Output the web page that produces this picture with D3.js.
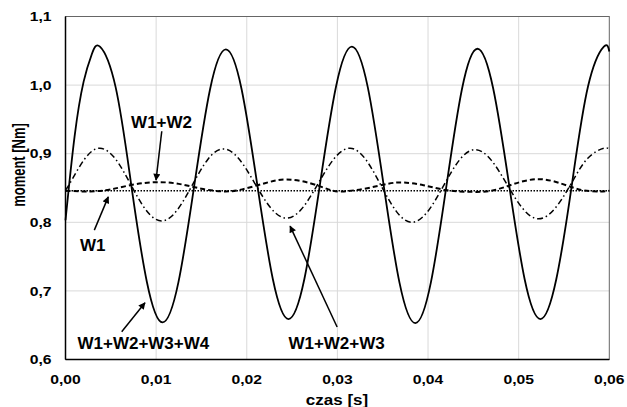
<!DOCTYPE html>
<html>
<head>
<meta charset="utf-8">
<script src="https://cdn.jsdelivr.net/npm/d3@7"></script>
<style>
  body { margin: 0; background: #fff; }
  svg { display: block; font-family: Arial, "Liberation Sans", sans-serif; font-weight: bold; }
</style>
</head>
<body>
<svg id="chart" width="627" height="407"></svg>
<script>
// tick values
const xTicks = [0, 0.01, 0.02, 0.03, 0.04, 0.05, 0.06];
const yTicks = [0.6, 0.7, 0.8, 0.9, 1.0, 1.1];

// W1 (dotted, constant)
const w1 = [[0, 0.846], [0.01, 0.846], [0.02, 0.846], [0.03, 0.846], [0.04, 0.846], [0.05, 0.846], [0.06, 0.846]];

// W1+W2 (dashed)
const w12 = [
  [0, 0.846], [0.0027, 0.845], [0.005, 0.848], [0.0075, 0.855], [0.01, 0.8585], [0.0125, 0.856],
  [0.015, 0.849], [0.0174, 0.845], [0.0195, 0.848], [0.022, 0.857], [0.0244, 0.8624], [0.027, 0.857],
  [0.029, 0.848], [0.0305, 0.845], [0.033, 0.849], [0.0355, 0.856], [0.0373, 0.858], [0.0395, 0.854],
  [0.042, 0.847], [0.0445, 0.8445], [0.047, 0.846], [0.0495, 0.856], [0.0522, 0.8629], [0.0548, 0.856],
  [0.057, 0.847], [0.059, 0.845], [0.06, 0.846]
];

// W1+W2+W3 (dash-dot)
const w123 = [
  [0, 0.848], [0.0004, 0.855], [0.0021, 0.892], [0.0038, 0.908], [0.0055, 0.8925], [0.0072, 0.855],
  [0.0089, 0.8175], [0.0106, 0.802], [0.0123, 0.8174], [0.014, 0.8545], [0.0157, 0.8916], [0.0174, 0.907],
  [0.01915, 0.8922], [0.0209, 0.8565], [0.02265, 0.8208], [0.0244, 0.806], [0.02615, 0.821], [0.0279, 0.857],
  [0.02965, 0.893], [0.0314, 0.908], [0.0331, 0.892], [0.0348, 0.854], [0.0365, 0.816], [0.0382, 0.8],
  [0.03995, 0.8155], [0.0417, 0.853], [0.04345, 0.8905], [0.0452, 0.906], [0.04695, 0.891], [0.0487, 0.8555],
  [0.05045, 0.82], [0.0522, 0.805], [0.054, 0.8201], [0.0558, 0.8565], [0.0576, 0.893], [0.0594, 0.908],
  [0.06, 0.906]
];

// W1+W2+W3+W4 (solid)
const w1234 = [
  [0, 0.803], [0.001, 0.925], [0.002, 1.005], [0.0029, 1.045], [0.0038, 1.056], [0.00553, 0.997],
  [0.00725, 0.855], [0.00898, 0.713], [0.0107, 0.654], [0.01245, 0.712], [0.0142, 0.853], [0.01595, 0.994],
  [0.0177, 1.052], [0.01943, 0.994], [0.02115, 0.8555], [0.02288, 0.717], [0.0246, 0.659], [0.02635, 0.717],
  [0.0281, 0.8575], [0.02985, 0.998], [0.0316, 1.056], [0.03335, 0.997], [0.0351, 0.8545], [0.03685, 0.712],
  [0.0386, 0.653], [0.04031, 0.712], [0.04203, 0.853], [0.04374, 0.994], [0.04545, 1.053], [0.04719, 0.995],
  [0.04893, 0.856], [0.05066, 0.717], [0.0524, 0.659], [0.05415, 0.717], [0.0559, 0.8575], [0.05765, 0.998],
  [0.0594, 1.056], [0.06, 1.049]
];

// labels with arrows: text anchor point, arrow start, arrow tip (data units)
const labels = [
  { text: "W1+W2", at: [0.0106, 0.937], from: [0.01062, 0.9327], to: [0.00999, 0.8614] },
  { text: "W1", at: [0.0030, 0.7587], from: [0.00318, 0.7886], to: [0.00472, 0.8371] },
  { text: "W1+W2+W3+W4", at: [0.00859, 0.6146], from: [0.0062, 0.6405], to: [0.00877, 0.6827] },
  { text: "W1+W2+W3", at: [0.02991, 0.6146], from: [0.02997, 0.6473], to: [0.02478, 0.7944] }
];

const svg = d3.select("#chart");
const plotLeft = 65.5, plotRight = 609.3, plotTop = 16.5, plotBottom = 359.5;
const squash = 0.833; // axis text in the picture is squashed vertically

const x = d3.scaleLinear().domain([0, 0.06]).range([plotLeft, plotRight]);
const y = d3.scaleLinear().domain([0.6, 1.1]).range([plotBottom, plotTop]);
const fmt = d => d3.format(".2f")(d).replace(".", ",");
const fmtY = d => d3.format(".1f")(d).replace(".", ",");

// grid
svg.append("g").selectAll("line").data(xTicks.slice(1, -1)).enter().append("line")
  .attr("x1", d => x(d)).attr("x2", d => x(d)).attr("y1", plotTop).attr("y2", plotBottom)
  .attr("stroke", "#d9d9d9").attr("stroke-width", 1);
svg.append("g").selectAll("line").data(yTicks.slice(1, -1)).enter().append("line")
  .attr("y1", d => y(d)).attr("y2", d => y(d)).attr("x1", plotLeft).attr("x2", plotRight)
  .attr("stroke", "#d9d9d9").attr("stroke-width", 1);

// frame
svg.append("rect").attr("x", plotLeft).attr("y", plotTop)
  .attr("width", plotRight - plotLeft).attr("height", plotBottom - plotTop)
  .attr("fill", "none").attr("stroke", "#666").attr("stroke-width", 1);

// series
const line = d3.line().x(d => x(d[0])).y(d => y(d[1])).curve(d3.curveNatural);
const plot = svg.append("g");
plot.append("path").datum(w1).attr("d", line).attr("fill", "none")
  .attr("stroke", "#000").attr("stroke-width", 1.5).attr("stroke-dasharray", "1.5,1.5");
plot.append("path").datum(w12).attr("d", line).attr("fill", "none")
  .attr("stroke", "#000").attr("stroke-width", 2).attr("stroke-dasharray", "5,3");
plot.append("path").datum(w123).attr("d", line).attr("fill", "none")
  .attr("stroke", "#000").attr("stroke-width", 1.5).attr("stroke-dasharray", "6,3,1.5,3");
plot.append("path").datum(w1234).attr("d", line).attr("fill", "none")
  .attr("stroke", "#000").attr("stroke-width", 1.8);

// axes lines
svg.append("line").attr("x1", plotLeft).attr("x2", plotLeft).attr("y1", plotTop).attr("y2", plotBottom)
  .attr("stroke", "#000").attr("stroke-width", 1.5);
svg.append("line").attr("x1", plotLeft).attr("x2", plotRight).attr("y1", plotBottom).attr("y2", plotBottom)
  .attr("stroke", "#000").attr("stroke-width", 1.5);

// tick labels
svg.append("g").selectAll("text").data(yTicks).enter().append("text")
  .attr("transform", d => `translate(51.5,${y(d) + 4.7}) scale(1,${squash})`)
  .attr("text-anchor", "end").style("font-size", "15.7px").text(fmtY);
svg.append("g").selectAll("text").data(xTicks).enter().append("text")
  .attr("transform", d => `translate(${x(d)},384) scale(1,${squash})`)
  .attr("text-anchor", "middle").style("font-size", "15.7px").text(fmt);

// axis titles
svg.append("text").attr("transform", `translate(337,404.5) scale(1,${squash})`)
  .attr("text-anchor", "middle").style("font-size", "17px").text("czas [s]");
svg.append("text").attr("transform", "translate(24.5,165) scale(1,0.72) rotate(-90)")
  .attr("text-anchor", "middle").style("font-size", "18px").text("moment [Nm]");

// arrows
svg.append("defs").append("marker").attr("id", "arrow")
  .attr("viewBox", "0 0 10 10").attr("refX", 9).attr("refY", 5)
  .attr("markerWidth", 9).attr("markerHeight", 7).attr("markerUnits", "userSpaceOnUse")
  .attr("orient", "auto")
  .append("path").attr("d", "M0,0 L10,5 L0,10 z").attr("fill", "#000");

const ann = svg.append("g");
ann.selectAll("line").data(labels).enter().append("line")
  .attr("x1", d => x(d.from[0])).attr("y1", d => y(d.from[1]))
  .attr("x2", d => x(d.to[0])).attr("y2", d => y(d.to[1]))
  .attr("stroke", "#000").attr("stroke-width", 1.5).attr("marker-end", "url(#arrow)");
ann.selectAll("text").data(labels).enter().append("text")
  .attr("x", d => x(d.at[0])).attr("y", d => y(d.at[1]))
  .attr("text-anchor", "middle").style("font-size", "17px").text(d => d.text);
</script>
</body>
</html>
